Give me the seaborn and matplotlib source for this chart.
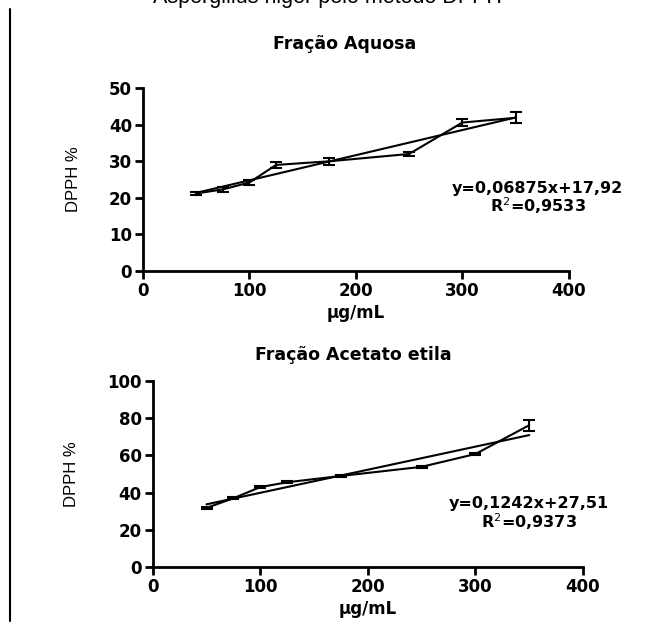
import numpy as np
import pandas as pd
import matplotlib.pyplot as plt
import seaborn as sns
from matplotlib.lines import Line2D

# concentrations (ug/mL)
conc = [50, 75, 100, 125, 175, 250, 300, 350]

# Fração Aquosa
aq_mean = [21.2, 22.3, 24.2, 29.0, 30.0, 32.0, 40.6, 41.9]
aq_err = [0.4, 0.6, 0.7, 0.9, 1.0, 0.6, 0.9, 1.5]
aq_slope, aq_icpt = 0.06875, 17.92

# Fração Acetato etila
ac_mean = [31.8, 37.0, 43.0, 45.6, 49.0, 53.9, 60.8, 76.3]
ac_err = [0.6, 0.6, 0.7, 0.6, 0.6, 0.6, 0.6, 3.0]
ac_slope, ac_icpt = 0.1242, 27.51

sns.set_theme(style="ticks", rc={'text.color': 'black', 'axes.labelcolor': 'black',
                                 'xtick.color': 'black', 'ytick.color': 'black',
                                 'axes.edgecolor': 'black'})
plt.rcParams['font.family'] = ['DejaVu Sans']

fig = plt.figure(figsize=(6.5, 6.3), dpi=100)
ax1 = fig.add_axes([0.22, 0.570, 0.655, 0.290])
ax2 = fig.add_axes([0.235, 0.100, 0.662, 0.295])


def panel(ax, mean, err, slope, icpt, r2, title, ymax, ystep,
          tx, ty, eqx, eqy, r2y):
    df = pd.DataFrame({'x': conc, 'y': mean})
    fit = pd.DataFrame({'x': [conc[0], conc[-1]]})
    fit['y'] = slope * fit['x'] + icpt
    sns.lineplot(data=df, x='x', y='y', color='black', lw=1.5, ax=ax)
    sns.lineplot(data=fit, x='x', y='y', color='black', lw=1.5, ax=ax)
    ax.errorbar(conc, mean, yerr=err, fmt='none', ecolor='black',
                elinewidth=1.5, capsize=4.5, capthick=1.5)
    ax.set_xlim(0, 400)
    ax.set_ylim(0, ymax)
    ax.set_xticks([0, 100, 200, 300, 400])
    ax.set_yticks(np.arange(0, ymax + 1, ystep))
    for s in ['top', 'right']:
        ax.spines[s].set_visible(False)
    for s in ['left', 'bottom']:
        ax.spines[s].set_linewidth(2)
    ax.tick_params(width=2, length=6, labelsize=12, pad=2)
    for lab in ax.get_xticklabels() + ax.get_yticklabels():
        lab.set_fontweight('bold')
    ax.set_xlabel('μg/mL', fontsize=12, fontweight='bold', labelpad=3)
    ax.set_ylabel('DPPH %', fontsize=12, family=['Liberation Sans'],
                  labelpad=20)
    ax.text(tx, ty, title, transform=ax.transAxes, ha='center',
            va='center', fontsize=12.5, fontweight='bold')
    ax.text(eqx, eqy, f'y={slope:g}x+{icpt:g}'.replace('.', ','),
            ha='center', va='center', fontsize=11.5, fontweight='bold')
    ax.text(eqx, r2y, f'R$^2$={r2}', ha='center', va='center',
            fontsize=11.5, fontweight='bold')


panel(ax1, aq_mean, aq_err, aq_slope, aq_icpt, '0,9533', 'Fração Aquosa',
      50, 10, 0.473, 1.24, 371, 22.5, 17.8)
panel(ax2, ac_mean, ac_err, ac_slope, ac_icpt, '0,9373', 'Fração Acetato etila',
      100, 20, 0.465, 1.14, 350, 34, 24.5)

fig.text(0.503, 0.996, 'Aspergillus niger pelo método DPPH', ha='center',
         va='baseline', fontsize=15.5, family=['Liberation Sans'])
fig.add_artist(Line2D([0.016, 0.016], [0.015, 0.985], color='black', lw=1.5,
                      transform=fig.transFigure))

fig.savefig('out.png', dpi=100)
